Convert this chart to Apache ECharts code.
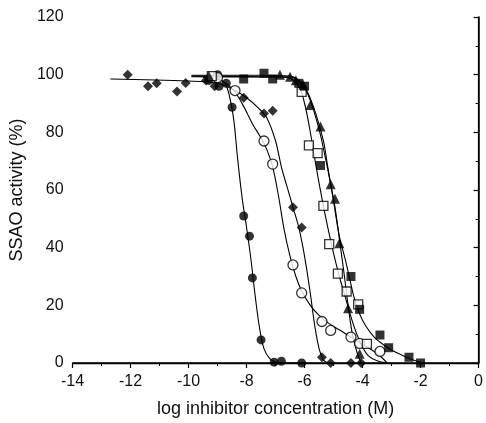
<!DOCTYPE html>
<html>
<head>
<meta charset="utf-8">
<script src="https://cdn.jsdelivr.net/npm/echarts@6/dist/echarts.min.js"></script>
<style>
html,body{margin:0;padding:0;background:#fff;}
#chart{width:486px;height:423px;}
</style>
</head>
<body>
<div id="chart"></div>
<script>
// ---- measured points (log M, % activity) ----
const filledDiamonds = [[-12.1,100],[-11.4,96],[-11.1,97],[-10.4,94.2],[-10.1,97.1],[-9.4,98],[-9.1,96],[-8.1,92],[-7.4,86.5],[-7.1,87.5],[-6.4,54],[-6.1,47],[-5.4,2],[-5.1,0],[-4.4,0],[-4.05,0]];
const filledCircles = [[-9.3,98],[-9.0,100],[-8.95,96],[-8.7,97],[-8.5,88.7],[-8.1,51],[-7.9,44],[-7.8,29.5],[-7.5,8],[-7.05,0.3],[-6.8,0.6],[-6.1,0]];
const openCircles = [[-9.0,99],[-8.4,94.5],[-7.4,77],[-7.1,69],[-6.4,34],[-6.1,24.3],[-5.4,14.4],[-5.1,11.3],[-4.4,9],[-4.1,6.8],[-3.4,4]];
const openSquares = [[-9.2,99.5],[-6.1,94],[-5.85,75.5],[-5.55,72.8],[-5.35,54.5],[-5.15,41.2],[-4.85,31],[-4.55,24.8],[-4.15,20.3],[-3.85,6.6],[-3.15,-0.3]];
const filledSquares = [[-8.1,98.5],[-7.4,100.5],[-7.1,98.5],[-6.2,97],[-6.0,96],[-5.45,68.5],[-4.4,30],[-4.1,18.6],[-3.4,9.7],[-3.1,5.3],[-2.4,2],[-2.0,0]];
const filledTriangles = [[-9.3,99.5],[-6.85,100],[-6.5,99.3],[-6.3,98.1],[-6.05,96.5],[-5.8,89.5],[-5.45,82],[-5.1,62],[-4.95,57],[-4.8,41.5],[-4.5,19],[-4.1,3.2]];

// ---- fitted curves ----
const curveDiamond = [[-12.7,98.5],[-10,97.8],[-9,97],[-8.5,95],[-8,92],[-7.6,88.5],[-7.3,85],[-7.0,77],[-6.8,68],[-6.6,61],[-6.4,54],[-6.2,47],[-6.0,37],[-5.8,24],[-5.65,13],[-5.5,5],[-5.35,1],[-5.2,0]];
const curveFilledCircle = [[-9.5,99],[-9,98.5],[-8.75,97],[-8.6,93],[-8.45,85],[-8.3,70],[-8.15,57],[-8.0,47],[-7.85,36],[-7.7,23],[-7.55,12],[-7.4,5],[-7.2,1.5],[-7.0,0.3],[-6.5,0],[-6.0,0]];
const curveOpenCircle = [[-9.5,99],[-9,98.5],[-8.7,97],[-8.4,94],[-8.1,89],[-7.8,83],[-7.5,78],[-7.3,74],[-7.1,68],[-6.9,58],[-6.7,46],[-6.5,37],[-6.3,30],[-6.1,25],[-5.8,20],[-5.5,16.5],[-5.2,14],[-4.8,11.5],[-4.4,9],[-4.0,6.5],[-3.6,4],[-3.35,2],[-3.15,0]];
const curveOpenSquare = [[-9.9,99.5],[-7.5,99.3],[-6.6,99],[-6.2,96],[-6.0,90],[-5.8,80],[-5.6,68],[-5.4,57],[-5.2,47],[-5.0,38],[-4.8,30],[-4.6,23],[-4.4,16],[-4.2,10],[-4.0,5.5],[-3.8,2.5],[-3.5,0.8],[-3.15,0]];
const curveTriangle = [[-9.9,99.8],[-7.5,99.8],[-6.5,99.5],[-6.1,97],[-5.8,91],[-5.5,81],[-5.3,72],[-5.1,62],[-4.95,54],[-4.8,43],[-4.65,32],[-4.5,20],[-4.35,10],[-4.2,4],[-4.05,0]];
const curveFilledSquare = [[-9.9,99.3],[-7.5,99.2],[-6.6,99.3],[-6.2,98],[-5.9,94],[-5.6,86],[-5.35,77],[-5.2,68],[-5.0,56],[-4.8,44],[-4.6,36],[-4.46,30],[-4.3,23],[-4.1,17],[-3.9,13],[-3.6,9],[-3.3,6.5],[-3.0,4.5],[-2.6,2.5],[-2.3,1.2],[-2.0,0.2]];

const xMin = -14, xMax = 0, xStep = 2;
const yMin = 0, yMax = 120, yStep = 20;
const xTitle = 'log inhibitor concentration (M)';
const yTitle = 'SSAO activity (%)';

const FONT = 'Liberation Sans, Arial, sans-serif';
const chart = echarts.init(document.getElementById('chart'), null, {renderer:'canvas'});

function curve(data){
  return {type:'line', data:data, smooth:0.35, showSymbol:false, symbol:'none', z:2,
    lineStyle:{color:'#000', width:1.1}, silent:true, animation:false};
}
function pts(data, symbol, size, filled){
  return {type:'scatter', data:data, symbol:symbol, symbolSize:size, z:5, animation:false,
    itemStyle:{color: filled ? '#000' : '#fff', borderColor:'#000', borderWidth: filled ? 0 : 1.3}};
}

chart.setOption({
  animation:false,
  backgroundColor:'#fff',
  grid:{left:70, right:5, top:17, bottom:55, containLabel:false},
  xAxis:[{
    type:'value', min:xMin, max:xMax, interval:xStep,
    name:xTitle, nameLocation:'middle', nameGap:37,
    nameTextStyle:{fontFamily:FONT, fontSize:18, color:'#111'},
    axisLine:{lineStyle:{color:'#000', width:1.5}},
    axisTick:{show:true, inside:false, length:5, lineStyle:{color:'#000', width:1.2}},
    minorTick:{show:true, splitNumber:2, length:3, lineStyle:{color:'#000', width:1}},
    axisLabel:{fontFamily:FONT, fontSize:16, color:'#111', margin:11},
    splitLine:{show:false}
  },{
    type:'value', position:'top', min:xMin, max:xMax, interval:xStep,
    axisLine:{show:true, lineStyle:{color:'#000', width:1.3}},
    axisTick:{show:false}, axisLabel:{show:false}, splitLine:{show:false}
  }],
  yAxis:[{
    type:'value', min:yMin, max:yMax, interval:yStep,
    name:yTitle, nameLocation:'middle', nameGap:43,
    nameTextStyle:{fontFamily:FONT, fontSize:18, color:'#111'},
    axisLine:{show:true, lineStyle:{color:'#000', width:1.5}},
    axisTick:{show:true, inside:false, length:5, lineStyle:{color:'#000', width:1.2}},
    minorTick:{show:true, splitNumber:2, length:3, lineStyle:{color:'#000', width:1}},
    axisLabel:{fontFamily:FONT, fontSize:16, color:'#111', margin:9},
    splitLine:{show:false}
  },{
    type:'value', position:'right', min:yMin, max:yMax, interval:yStep,
    axisLine:{show:true, lineStyle:{color:'#000', width:1.2}},
    axisTick:{show:false}, axisLabel:{show:false}, splitLine:{show:false}
  }],
  series:[
    curve(curveDiamond), curve(curveFilledCircle), curve(curveOpenCircle),
    curve(curveOpenSquare), curve(curveTriangle), curve(curveFilledSquare),
    pts(filledDiamonds,'diamond',10,true),
    pts(filledCircles,'circle',9,true),
    pts(openCircles,'circle',10,false),
    pts(openSquares,'rect',9,false),
    pts(filledSquares,'rect',9,true),
    pts(filledTriangles,'triangle',10,true)
  ]
});
</script>
</body>
</html>
